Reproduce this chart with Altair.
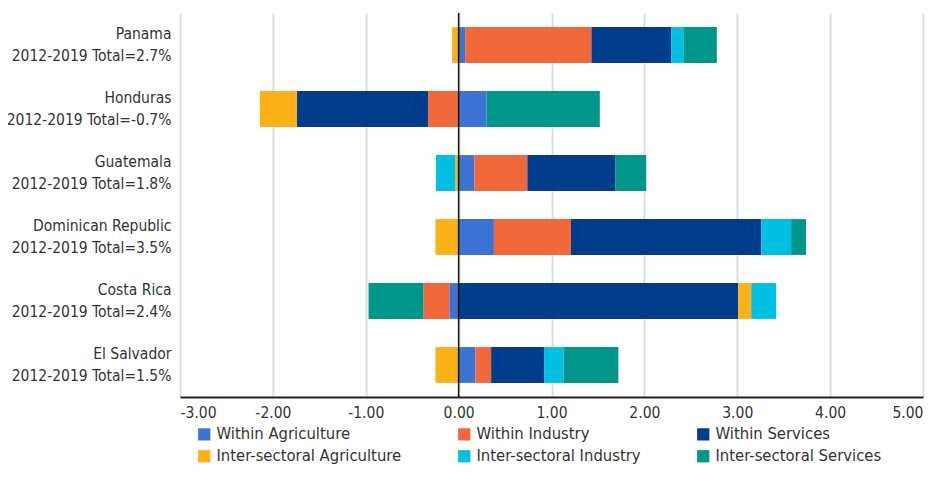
import altair as alt
import pandas as pd

countries = ["Panama", "Honduras", "Guatemala", "Dominican Republic", "Costa Rica", "El Salvador"]
totals = ["2.7%", "-0.7%", "1.8%", "3.5%", "2.4%", "1.5%"]

series = ["Within Agriculture", "Within Industry", "Within Services",
          "Inter-sectoral Agriculture", "Inter-sectoral Industry", "Inter-sectoral Services"]
colors = ["#3D74D3", "#F1683A", "#003D8D", "#FBB117", "#00BFE3", "#00968A"]

within_agri = [0.07, 0.30, 0.17, 0.38, -0.10, 0.18]
within_ind = [1.36, -0.33, 0.57, 0.83, -0.28, 0.17]
within_serv = [0.86, -1.41, 0.95, 2.05, 3.01, 0.57]
inter_agri = [-0.07, -0.40, -0.035, -0.25, 0.14, -0.25]
inter_ind = [0.13, 0.0, -0.21, 0.32, 0.27, 0.21]
inter_serv = [0.36, 1.22, 0.33, 0.16, -0.59, 0.59]

values = [within_agri, within_ind, within_serv, inter_agri, inter_ind, inter_serv]

labels = [f"{c}\n2012-2019 Total={t}" for c, t in zip(countries, totals)]

rows = []
for si, (s, vals) in enumerate(zip(series, values)):
    for lab, v in zip(labels, vals):
        rows.append({"label": lab, "series": s, "order": si, "value": v})
df = pd.DataFrame(rows)

FONT = "DejaVu Sans Condensed, Roboto Condensed, Liberation Sans Narrow, Roboto, sans-serif"

bars = alt.Chart(df).mark_bar().encode(
    y=alt.Y("label:N", sort=labels, title=None,
            scale=alt.Scale(paddingInner=0.44, paddingOuter=0.22),
            axis=alt.Axis(labelExpr="split(datum.label, '\\n')", labelFontSize=15.5,
                          labelLineHeight=22, labelColor="#333333", labelFont=FONT,
                          labelOffset=-11,
                          ticks=False, domain=False, labelPadding=9, labelLimit=300)),
    x=alt.X("value:Q", stack="zero", title=None,
            scale=alt.Scale(domain=[-3, 5], nice=False),
            axis=alt.Axis(values=[-3, -2, -1, 0, 1, 2, 3, 4, 5],
                          labelExpr="(datum.value < 0 ? '-' : '') + format(abs(datum.value), '.2f')",
                          labelFontSize=15.5, labelColor="#333333", labelFont=FONT,
                          ticks=False, domainColor="#222222", domainWidth=2,
                          gridColor="#dddddd", gridWidth=2, labelPadding=8)),
    color=alt.Color("series:N", sort=series,
                    scale=alt.Scale(domain=series, range=colors),
                    legend=alt.Legend(title=None, orient="none", legendX=16, legendY=413,
                                      columns=3, direction="horizontal",
                                      symbolType="square", symbolSize=150,
                                      symbolStrokeWidth=0, labelFontSize=16.5,
                                      labelFont=FONT, labelColor="#333333",
                                      columnPadding=54, rowPadding=5, labelLimit=300)),
    order=alt.Order("order:Q"),
)

zero = alt.Chart(pd.DataFrame({"x": [0]})).mark_rule(color="#111111", strokeWidth=1.5).encode(
    x=alt.X("x:Q")
)

chart = alt.layer(bars, zero).properties(
    width=743, height=384,
    autosize=alt.AutoSizeParams(type="none"),
    padding={"left": 172, "top": 5, "right": 14, "bottom": 70},
).configure_view(stroke=None)

chart.save("out.html", embed_options={"renderer": "svg", "actions": False})
